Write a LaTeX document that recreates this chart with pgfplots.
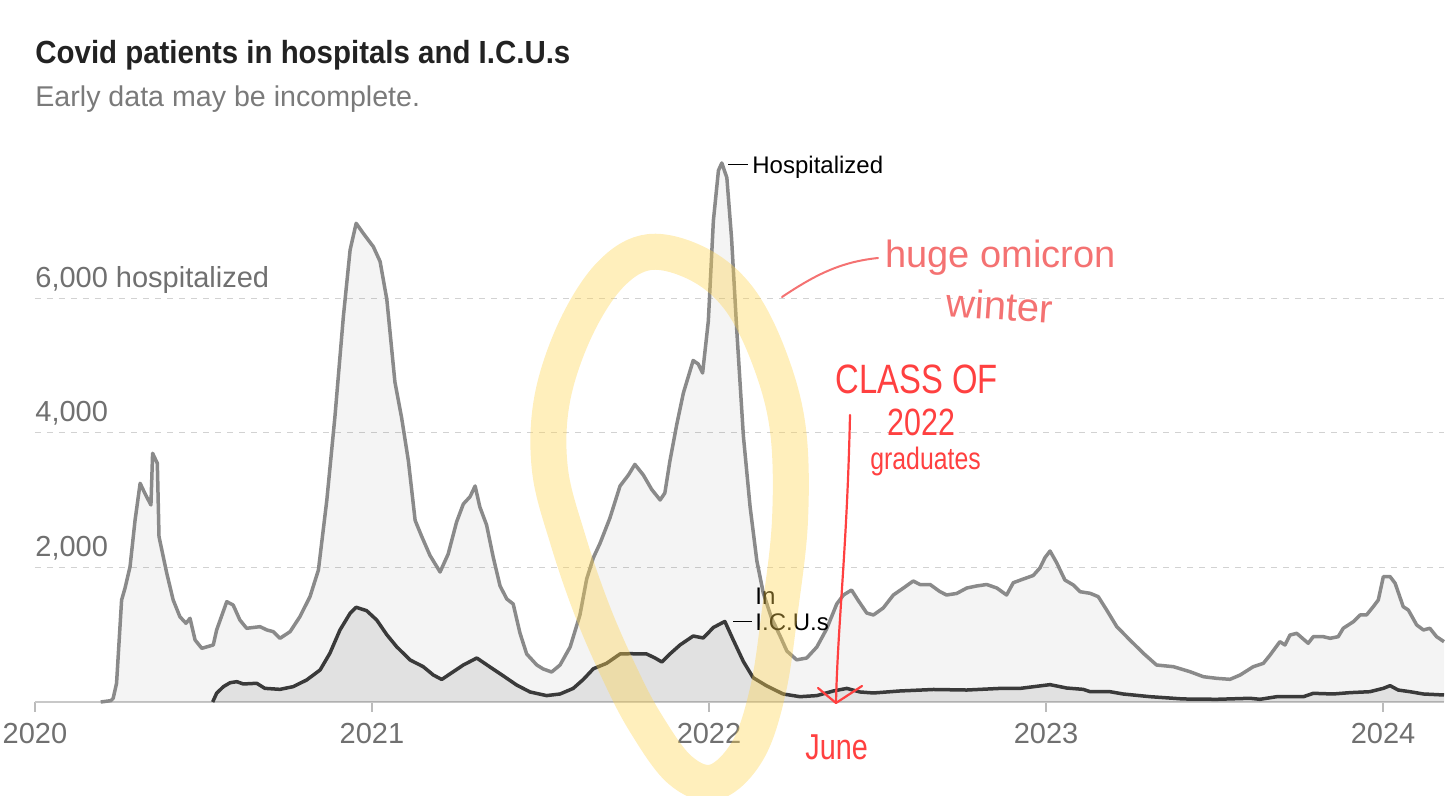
\documentclass[border=0pt]{standalone}
\usepackage{pgfplots}
\pgfplotsset{compat=1.18}
\usepackage{pgfplotstable}
\usepackage{fontspec}
\setmainfont{Liberation Sans}
\newfontfamily\titlefont[FakeStretch=0.92]{Liberation Sans}
\newfontfamily\handfont[FakeStretch=0.8]{Liberation Sans}
\definecolor{hospline}{HTML}{8A8A8A}
\definecolor{iculine}{HTML}{3A3A3A}
\definecolor{gridc}{HTML}{D2D2D2}
\definecolor{basec}{HTML}{C8C8C8}
\definecolor{tickc}{HTML}{BBBBBB}
\definecolor{labelgray}{HTML}{707070}
\definecolor{subgray}{HTML}{7A7A7A}
\definecolor{titlec}{HTML}{222222}
\definecolor{annred}{HTML}{F47272}
\definecolor{arrred}{HTML}{FF4040}
\definecolor{hl}{RGB}{255,212,80}

\pgfplotstableread{
x y
2020.195 0
2020.225 20
2020.232 55
2020.242 278
2020.257 1517
2020.267 1690
2020.282 2012
2020.297 2706
2020.312 3252
2020.326 3103
2020.344 2929
2020.349 3698
2020.363 3549
2020.368 2458
2020.391 1914
2020.410 1517
2020.430 1268
2020.448 1170
2020.460 1244
2020.475 922
2020.495 798
2020.529 848
2020.539 1071
2020.569 1492
2020.588 1442
2020.608 1219
2020.628 1096
2020.668 1120
2020.688 1071
2020.707 1046
2020.727 947
2020.757 1046
2020.786 1268
2020.816 1566
2020.841 1963
2020.866 3004
2020.890 4242
2020.915 5729
2020.935 6721
2020.953 7118
2020.974 6970
2021.004 6770
2021.024 6550
2021.044 5985
2021.068 4758
2021.088 4223
2021.108 3584
2021.128 2700
2021.147 2468
2021.172 2180
2021.202 1933
2021.226 2200
2021.251 2677
2021.271 2944
2021.291 3053
2021.306 3212
2021.320 2900
2021.340 2632
2021.360 2147
2021.380 1725
2021.400 1532
2021.419 1457
2021.439 1026
2021.459 714
2021.489 550
2021.508 491
2021.533 446
2021.558 550
2021.588 818
2021.617 1294
2021.637 1829
2021.657 2147
2021.677 2364
2021.706 2736
2021.736 3212
2021.761 3376
2021.780 3533
2021.805 3376
2021.830 3160
2021.855 3004
2021.869 3108
2021.884 3584
2021.904 4119
2021.924 4595
2021.953 5078
2021.968 5026
2021.981 4892
2021.998 5665
2022.013 7157
2022.028 7903
2022.038 8015
2022.053 7796
2022.067 6891
2022.082 5561
2022.102 3955
2022.122 2900
2022.142 2097
2022.161 1621
2022.186 1242
2022.211 981
2022.231 758
2022.260 627
2022.290 654
2022.320 818
2022.349 1086
2022.379 1457
2022.399 1591
2022.423 1665
2022.443 1508
2022.468 1323
2022.488 1294
2022.517 1398
2022.547 1591
2022.577 1695
2022.606 1799
2022.626 1747
2022.656 1747
2022.685 1642
2022.705 1591
2022.735 1614
2022.765 1695
2022.794 1725
2022.824 1747
2022.854 1695
2022.883 1591
2022.903 1774
2022.933 1829
2022.962 1881
2022.982 1993
2022.997 2147
2023.012 2245
2023.032 2067
2023.056 1814
2023.081 1740
2023.101 1640
2023.131 1616
2023.155 1566
2023.180 1368
2023.210 1120
2023.249 922
2023.289 724
2023.328 550
2023.378 525
2023.427 451
2023.467 376
2023.506 352
2023.546 337
2023.576 401
2023.615 525
2023.645 575
2023.665 699
2023.694 897
2023.709 848
2023.724 996
2023.744 1021
2023.778 873
2023.793 971
2023.823 971
2023.843 947
2023.867 971
2023.882 1096
2023.912 1194
2023.932 1294
2023.951 1294
2023.971 1417
2023.986 1517
2024.001 1864
2024.021 1864
2024.036 1765
2024.060 1417
2024.075 1368
2024.100 1145
2024.120 1071
2024.139 1096
2024.159 971
2024.181 897
}\hosp

\pgfplotstableread{
x y
2020.527 0
2020.529 20
2020.539 130
2020.559 228
2020.579 287
2020.599 302
2020.618 268
2020.658 278
2020.682 203
2020.727 188
2020.766 228
2020.806 327
2020.846 476
2020.875 724
2020.905 1071
2020.935 1319
2020.953 1408
2020.984 1358
2021.014 1219
2021.044 1000
2021.073 823
2021.113 625
2021.152 525
2021.182 401
2021.207 335
2021.231 416
2021.271 550
2021.311 654
2021.350 521
2021.390 387
2021.429 253
2021.469 149
2021.518 95
2021.558 119
2021.597 202
2021.627 335
2021.657 495
2021.696 575
2021.736 714
2021.766 718
2021.815 714
2021.840 654
2021.860 595
2021.884 714
2021.914 848
2021.953 981
2021.983 952
2022.013 1108
2022.047 1198
2022.072 922
2022.102 602
2022.131 361
2022.171 240
2022.220 119
2022.270 79
2022.320 95
2022.369 164
2022.409 202
2022.448 149
2022.488 134
2022.567 164
2022.666 186
2022.765 178
2022.864 202
2022.923 202
2023.012 258
2023.061 208
2023.110 188
2023.131 153
2023.190 153
2023.229 119
2023.309 79
2023.407 45
2023.506 40
2023.605 55
2023.635 40
2023.685 79
2023.764 79
2023.793 129
2023.852 119
2023.902 139
2023.961 153
2024.001 203
2024.021 243
2024.045 178
2024.080 153
2024.120 119
2024.181 104
}\icu

\begin{document}
\begin{tikzpicture}
\useasboundingbox (-17.5pt,-47pt) rectangle (710.5pt,351pt);
\begin{axis}[
  at={(0,0)}, anchor=south west,
  scale only axis, width=704.5pt, height=272.36pt,
  xmin=2020, xmax=2024.181, ymin=0, ymax=8100,
  axis x line*=bottom, axis y line*=left,
  y axis line style={draw=none},
  x axis line style={draw=basec, line width=1pt},
  xtick={2020,2021,2022,2023,2024},
  xticklabels={2020,2021,2022,2023,2024},
  xticklabel style={font=\fontsize{14.5}{16}\selectfont, text=labelgray, yshift=-2pt},
  ytick={2000,4000,6000}, yticklabels={},
  ytick style={draw=none},
  xtick style={draw=tickc, line width=0.6pt},
  tick align=outside, major tick length=5pt,
  ymajorgrids, grid style={draw=gridc, dash pattern=on 3pt off 3pt, line width=0.5pt},
  clip=false,
]
\addplot[draw=none, fill=black, fill opacity=0.045] table[x=x,y=y]{\hosp} \closedcycle;
\addplot[draw=none, fill=black, fill opacity=0.08] table[x=x,y=y]{\icu} \closedcycle;
\addplot[draw=hospline, line width=1.75pt, line join=round] table[x=x,y=y]{\hosp};
\addplot[draw=iculine, line width=1.75pt, line join=round] table[x=x,y=y]{\icu};
\node[anchor=base west, inner sep=0pt, font=\fontsize{14.5}{16}\selectfont, text=labelgray, yshift=5.5pt] at (axis cs:2020,6000) {6,000 hospitalized};
\node[anchor=base west, inner sep=0pt, font=\fontsize{14.5}{16}\selectfont, text=labelgray, yshift=5.5pt] at (axis cs:2020,4000) {4,000};
\node[anchor=base west, inner sep=0pt, font=\fontsize{14.5}{16}\selectfont, text=labelgray, yshift=5.5pt] at (axis cs:2020,2000) {2,000};
\end{axis}
\begin{scope}[shift={(-17.5pt,351pt)}, x=0.5pt, y=-0.5pt]
  % title
  \node[anchor=base west, inner sep=0, text=titlec, font=\titlefont\bfseries\fontsize{16}{19}\selectfont] at (35,64) {Covid patients in hospitals and I.C.U.s};
  \node[anchor=base west, inner sep=0, text=subgray, font=\fontsize{14.3}{17}\selectfont] at (35,107) {Early data may be incomplete.};
  % series labels
  \draw[black, line width=0.5pt] (728,165) -- (748,165);
  \node[anchor=base west, inner sep=0, font=\fontsize{12}{14}\selectfont] at (752,174) {Hospitalized};
  \draw[black, line width=0.5pt] (733,622) -- (752,622);
  \node[anchor=base west, inner sep=0, font=\fontsize{12}{14}\selectfont] at (755,605) {In};
  \node[anchor=base west, inner sep=0, font=\fontsize{12}{14}\selectfont] at (755,631) {I.C.U.s};
  % highlighter loop
  \draw[hl, opacity=0.38, line width=18pt, line cap=round, line join=round]
    plot[smooth cycle, tension=0.6] coordinates {(650,252) (700,265) (740,300) (770,360) (788,430) (790,520) (780,610) (768,690) (748,750) (715,782) (680,770) (645,722) (618,670) (592,610) (568,540) (550,470) (552,400) (575,330) (610,275)};
  % red annotations
  \draw[annred, line width=1pt, line cap=round] (782,297) .. controls (815,275) and (840,262) .. (878,258);
  \node[anchor=base west, inner sep=0, text=annred, font=\fontsize{19}{21}\selectfont] at (885,268) {huge omicron};
  \node[anchor=base west, inner sep=0, text=annred, font=\fontsize{20}{22}\selectfont, rotate=-4] at (945,316) {winter};
  \node[anchor=base west, inner sep=0, text=arrred, font=\handfont\fontsize{20.5}{22}\selectfont] at (835,394) {CLASS OF};
  \node[anchor=base west, inner sep=0, text=arrred, font=\handfont\fontsize{19}{21}\selectfont] at (887,436) {2022};
  \node[anchor=base west, inner sep=0, text=arrred, font=\handfont\fontsize{15.5}{18}\selectfont] at (870,470) {graduates};
  \node[anchor=base west, inner sep=0, text=arrred, font=\handfont\fontsize{18}{20}\selectfont] at (805,760) {June};
  \draw[arrred, line width=1.1pt, line cap=round, line join=round] (850,415) .. controls (847,550) and (838,620) .. (836,702);
  \draw[arrred, line width=1.1pt, line cap=round, line join=round] (818,688) -- (836,703) -- (862,686);
\end{scope}
\end{tikzpicture}
\end{document}
